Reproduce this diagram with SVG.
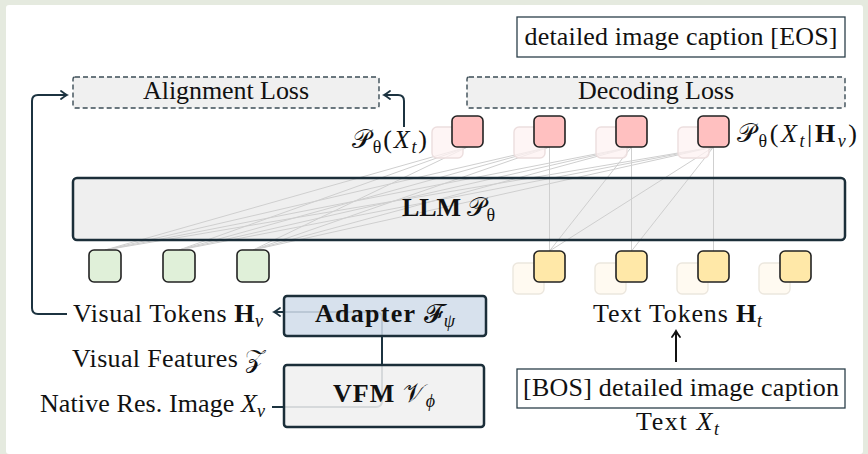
<svg xmlns="http://www.w3.org/2000/svg" width="868" height="454" viewBox="0 0 868 454">
<defs>
<style>
text{font-family:"Liberation Serif","DejaVu Serif",serif;font-size:26px;fill:#111}
.b{font-weight:bold}
.i{font-style:italic}
.sub{font-size:18px}
.cap{fill:#fff;stroke:#2b3f4a;stroke-width:1.3}
.dash{fill:#f0f0f0;stroke:#3b4c55;stroke-width:1.4;stroke-dasharray:5 3}
.pk{fill:#ffc0c0;stroke:#222;stroke-width:1.6}
.yl{fill:#ffe8a8;stroke:#222;stroke-width:1.6}
.gr{fill:#e0f0d9;stroke:#222;stroke-width:1.6}
.gpk{fill:#fdf1f1;fill-opacity:0.75;stroke:#ecdede;stroke-width:1.4}
.gyl{fill:#fffaf1;stroke:#ece7de;stroke-width:1.4}
.att{stroke:#cfcfcf;stroke-width:1;fill:none}
.conn{fill:none;stroke:#1c3340;stroke-width:2;stroke-linejoin:round}
</style>
<marker id="arr" viewBox="-8 -6 10 12" refX="0" refY="0" markerWidth="10" markerHeight="12" markerUnits="userSpaceOnUse" orient="auto">
<path d="M-6,-4 Q-2,-1 0,0 Q-2,1 -6,4" fill="none" stroke="#1c3340" stroke-width="1.8" stroke-linecap="round"/>
</marker>
<marker id="arrk" viewBox="-8 -6 10 12" refX="0" refY="0" markerWidth="10" markerHeight="12" markerUnits="userSpaceOnUse" orient="auto">
<path d="M-6,-4 Q-2,-1 0,0 Q-2,1 -6,4" fill="none" stroke="#111" stroke-width="1.8" stroke-linecap="round"/>
</marker>
</defs>
<rect x="0" y="0" width="868" height="454" fill="#e5eadf"/>
<rect x="6" y="5" width="857" height="449" rx="3" fill="#fff"/>

<g id="caption-out">
<rect class="cap" x="517" y="17" width="328" height="40"/>
<text x="681" y="45" text-anchor="middle" textLength="313">detailed image caption [EOS]</text>
</g>
<g id="alignment-loss">
<rect class="dash" x="73" y="77" width="306" height="31" rx="2"/>
<text x="226" y="99" text-anchor="middle" textLength="166">Alignment Loss</text>
</g>
<g id="decoding-loss">
<rect class="dash" x="467" y="77" width="378" height="31" rx="2"/>
<text x="656" y="99" text-anchor="middle" textLength="156">Decoding Loss</text>
</g>

<g id="llm">
<rect x="73" y="178" width="772" height="62" rx="4" fill="#efefef"/>
</g>

<g id="connectors">
<g id="attention">
<path class="att" d="M467.5,147L105,250M467.5,147L179,250M467.5,147L253,250"/>
<path class="att" d="M549.5,147L105,250M549.5,147L179,250M549.5,147L253,250M549.5,147L549.5,251"/>
<path class="att" d="M631.5,147L105,250M631.5,147L179,250M631.5,147L253,250M631.5,147L549.5,251M631.5,147L631.5,251"/>
<path class="att" d="M713.5,147L105,250M713.5,147L179,250M713.5,147L253,250M713.5,147L549.5,251M713.5,147L631.5,251M713.5,147L713.5,251"/>
</g>
<path class="conn" d="M67,314H38Q32,314 32,308V101Q32,95 38,95H67" marker-end="url(#arr)"/>
<path class="conn" d="M404,127V101Q404,95 398,95H384" marker-end="url(#arr)"/>
<path class="conn" d="M272,407H376Q382,407 382,401V318Q382,312 376,312H274" marker-end="url(#arr)"/>
<path d="M676,362V331" fill="none" stroke="#111" stroke-width="2" marker-end="url(#arrk)"/>
</g>

<g id="llm-frame">
<rect x="73" y="178" width="772" height="62" rx="4" fill="none" stroke="#1b2e39" stroke-width="2.5"/>
<text x="402" y="216" textLength="93"><tspan class="b">LLM </tspan>𝒫<tspan class="sub" dy="5">θ</tspan></text>
</g>

<g id="output-tokens">
<rect class="gpk" x="432" y="127" width="31" height="31" rx="5"/>
<rect class="gpk" x="514" y="127" width="31" height="31" rx="5"/>
<rect class="gpk" x="596" y="127" width="31" height="31" rx="5"/>
<rect class="gpk" x="678" y="127" width="31" height="31" rx="5"/>
<rect class="pk" x="452" y="116" width="31" height="31" rx="5"/>
<rect class="pk" x="534" y="116" width="31" height="31" rx="5"/>
<rect class="pk" x="616" y="116" width="31" height="31" rx="5"/>
<rect class="pk" x="698" y="116" width="31" height="31" rx="5"/>
</g>
<g id="label-pt">
<text x="352" y="148" textLength="75">𝒫<tspan class="sub" dy="5">θ</tspan><tspan dy="-5">(</tspan><tspan class="i">X</tspan><tspan class="sub i" dy="5">t</tspan><tspan dy="-5">)</tspan></text>
</g>
<g id="label-pthv">
<text x="737" y="142" textLength="120">𝒫<tspan class="sub" dy="5">θ</tspan><tspan dy="-5">(</tspan><tspan class="i">X</tspan><tspan class="sub i" dy="5">t</tspan><tspan dy="-5">|</tspan><tspan class="b">H</tspan><tspan class="sub i" dy="5">v</tspan><tspan dy="-5">)</tspan></text>
</g>

<g id="visual-tokens">
<rect class="gr" x="89" y="250" width="32" height="32" rx="5"/>
<rect class="gr" x="163" y="250" width="32" height="32" rx="5"/>
<rect class="gr" x="237" y="250" width="32" height="32" rx="5"/>
</g>
<g id="text-tokens">
<rect class="gyl" x="513" y="263" width="31" height="31" rx="5"/>
<rect class="gyl" x="595" y="263" width="31" height="31" rx="5"/>
<rect class="gyl" x="677" y="263" width="31" height="31" rx="5"/>
<rect class="gyl" x="759" y="263" width="31" height="31" rx="5"/>
<rect class="yl" x="534" y="251" width="31" height="31" rx="5"/>
<rect class="yl" x="616" y="251" width="31" height="31" rx="5"/>
<rect class="yl" x="698" y="251" width="31" height="31" rx="5"/>
<rect class="yl" x="780" y="251" width="31" height="31" rx="5"/>
</g>

<g id="label-visual-tokens">
<text x="73" y="322" textLength="190">Visual Tokens <tspan class="b">H</tspan><tspan class="sub i" dy="5">v</tspan></text>
</g>
<g id="adapter">
<rect x="284" y="296" width="202" height="40" rx="3" fill="#d2ddeb" fill-opacity="0.88" stroke="#1b2e39" stroke-width="2.5"/>
<text x="315" y="322" textLength="140"><tspan class="b">Adapter </tspan>𝓕<tspan class="sub i" dy="5">ψ</tspan></text>
</g>
<g id="label-visual-features">
<text x="72" y="367" textLength="193">Visual Features 𝒵</text>
</g>
<g id="vfm">
<rect x="284" y="365" width="200" height="62" rx="3" fill="#f0f0f0" fill-opacity="0.88" stroke="#1b2e39" stroke-width="2.5"/>
<text x="333" y="402" textLength="102"><tspan class="b">VFM </tspan>𝒱<tspan class="sub i" dy="5">ϕ</tspan></text>
</g>
<g id="label-image">
<text x="40" y="412" textLength="225">Native Res. Image <tspan class="i">X</tspan><tspan class="sub i" dy="5">v</tspan></text>
</g>

<g id="label-text-tokens">
<text x="593" y="322" textLength="169">Text Tokens <tspan class="b">H</tspan><tspan class="sub i" dy="5">t</tspan></text>
</g>
<g id="caption-in">
<rect class="cap" x="517" y="369" width="328" height="39"/>
<text x="681" y="396" text-anchor="middle" textLength="316">[BOS] detailed image caption</text>
</g>
<g id="label-text">
<text x="636" y="430" textLength="83">Text <tspan class="i">X</tspan><tspan class="sub i" dy="5">t</tspan></text>
</g>
</svg>
